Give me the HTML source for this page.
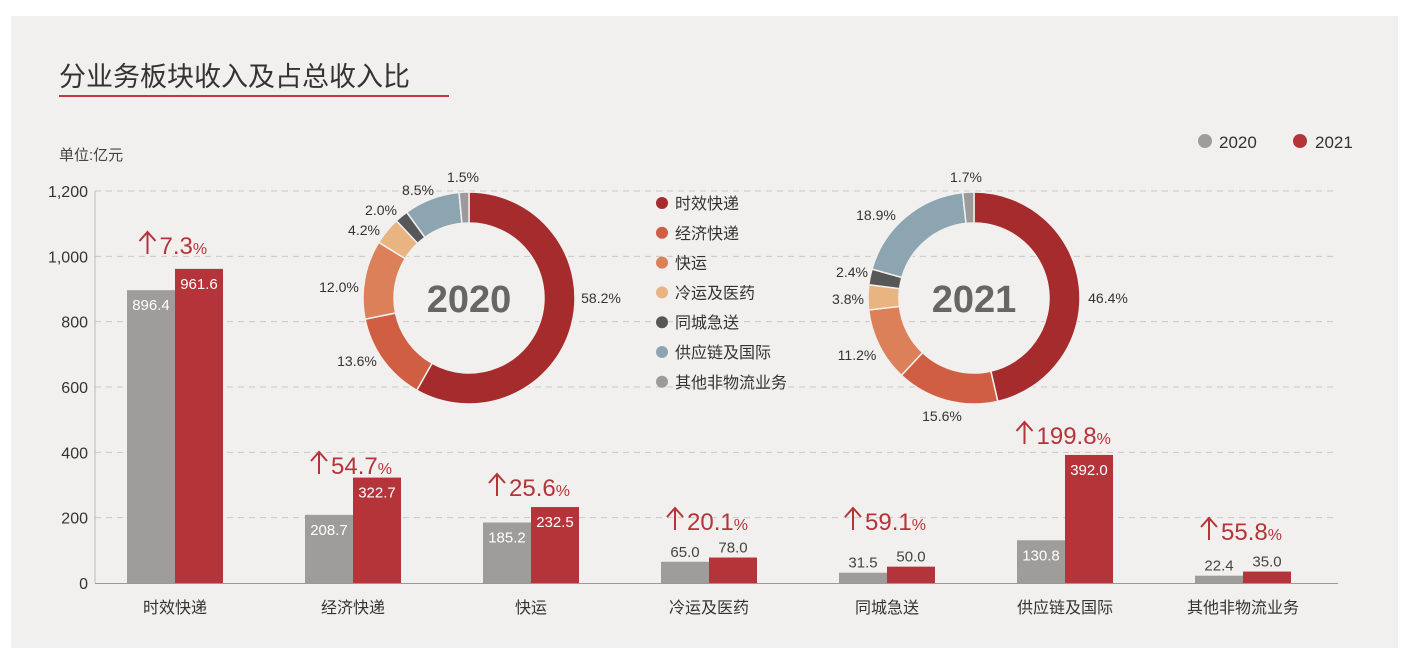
<!DOCTYPE html>
<html><head><meta charset="utf-8"><style>
body{margin:0;background:#fff;}
svg{display:block;font-family:"Liberation Sans","Noto Sans CJK SC",sans-serif;}
</style></head><body>
<svg id="s" width="1410" height="660" viewBox="0 0 1410 660" xmlns="http://www.w3.org/2000/svg">
<rect x="11" y="16" width="1387" height="632" fill="#f1f0ee"/>
<text x="59" y="86" font-size="27" fill="#333">分业务板块收入及占总收入比</text>
<rect x="59" y="95" width="390" height="2" fill="#c0393b"/>
<text x="59" y="160" font-size="15" fill="#444">单位:亿元</text>
<circle cx="1205" cy="141" r="7" fill="#9e9d9b"/><text x="1219" y="148" font-size="17" fill="#333">2020</text>
<circle cx="1300" cy="141" r="7" fill="#b5343a"/><text x="1315" y="148" font-size="17" fill="#333">2021</text>
<g id="g"></g>
</svg>
<script>
const g=document.getElementById('g');let h='';
const Y=v=>583-v*392/1200;
for(let i=0;i<=6;i++){const y=Y(i*200);
 if(i>0)h+=`<line x1="95" x2="1338" y1="${y}" y2="${y}" stroke="#c9c8c6" stroke-dasharray="6,5"/>`;
 h+=`<text x="88" y="${y+6}" font-size="16" fill="#333" text-anchor="end">${(i*200).toLocaleString('en-US')}</text>`;}
h+=`<line x1="95" x2="95" y1="191" y2="583" stroke="#bbb"/><line x1="95" x2="1338" y1="583.5" y2="583.5" stroke="#999"/>`;
const cats=["时效快递","经济快递","快运","冷运及医药","同城急送","供应链及国际","其他非物流业务"];
const a=[896.4,208.7,185.2,65.0,31.5,130.8,22.4],b=[961.6,322.7,232.5,78.0,50.0,392.0,35.0];
const pc=["7.3","54.7","25.6","20.1","59.1","199.8","55.8"];
const py=[254,474,496,530,530,444,540];
for(let i=0;i<7;i++){const c=175+178*i;
 [[a[i],c-48,"#9e9d9b"],[b[i],c,"#b5343a"]].forEach(([v,x,col])=>{const t=Y(v);
  h+=`<rect x="${x}" y="${t}" width="48" height="${583-t}" fill="${col}"/>`;
  const inside=583-t>30;
  h+=`<text x="${x+24}" y="${inside?t+20:t-5}" font-size="15" fill="${inside?'#fff':'#444'}" text-anchor="middle">${v.toFixed(1)}</text>`;});
 const w=pc[i].length*13+14+18;const x0=c-w/2;const y=py[i];
 h+=`<path d="M${x0+8},${y} V${y-21} M${x0},${y-13} L${x0+8},${y-22} L${x0+16},${y-13}" stroke="#b5343a" stroke-width="2" fill="none"/>`;
 h+=`<text x="${x0+20}" y="${y}" font-size="24" fill="#b5343a">${pc[i]}<tspan font-size="16">%</tspan></text>`;
 h+=`<text x="${c}" y="613" font-size="16" fill="#333" text-anchor="middle">${cats[i]}</text>`;}
const cols=["#a52b2c","#d05e42","#dc8059","#e8b582","#575757","#8da5b0","#9b9b9b"];
function donut(cx,cy,vals,lbl,labels){let s=0;const R=106,r=75;
 vals.forEach((v,k)=>{const a0=s/100*2*Math.PI,a1=(s+v)/100*2*Math.PI;s+=v;
  const p=(rad,a)=>[cx+rad*Math.sin(a),cy-rad*Math.cos(a)];const L=(a1-a0)>Math.PI?1:0;
  const [x0,y0]=p(R,a0),[x1,y1]=p(R,a1),[x2,y2]=p(r,a1),[x3,y3]=p(r,a0);
  h+=`<path d="M${x0},${y0}A${R},${R} 0 ${L} 1 ${x1},${y1}L${x2},${y2}A${r},${r} 0 ${L} 0 ${x3},${y3}Z" fill="${cols[k]}" stroke="#f1f0ee" stroke-width="1.5"/>`;
  const [lx,ly]=labels[k];h+=`<text x="${lx}" y="${ly}" font-size="14" fill="#333" text-anchor="middle">${v.toFixed(1)}%</text>`;});
 h+=`<text x="${cx}" y="${cy+14}" font-size="38" font-weight="bold" fill="#666" text-anchor="middle">${lbl}</text>`;}
donut(469,298,[58.2,13.6,12.0,4.2,2.0,8.5,1.5],"2020",[[601,303],[357,366],[339,292],[364,235],[381,215],[418,195],[463,182]]);
donut(974,298,[46.4,15.6,11.2,3.8,2.4,18.9,1.7],"2021",[[1108,303],[942,421],[857,360],[848,304],[852,277],[876,220],[966,182]]);
cats.forEach((c,k)=>{const y=203+29.8*k;h+=`<circle cx="662" cy="${y}" r="6" fill="${cols[k]}"/><text x="675" y="${y+6}" font-size="16" fill="#333">${c}</text>`;});
g.innerHTML=h;
</script>
</body></html>
